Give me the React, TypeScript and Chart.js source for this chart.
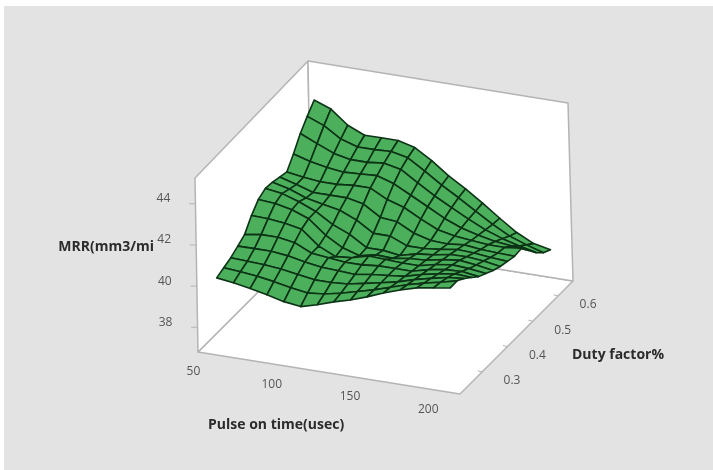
import React, { useEffect, useRef } from "react";
import Chart from "chart.js/auto";

const pulseValues = [50, 60.7, 71.4, 82.1, 92.9, 103.6, 114.3, 125, 135.7, 146.4, 157.1, 167.9, 178.6, 189.3, 200];
const dutyValues = [0.25, 0.278, 0.306, 0.334, 0.361, 0.389, 0.417, 0.445, 0.473, 0.501, 0.529, 0.556, 0.584, 0.612, 0.64];

const mrrPulse0 = [40.02, 40.16, 40.3, 40.51, 40.73, 41.3, 41.73, 41.91, 41.86, 41.76, 41.66, 42.18, 42.81, 43.28, 43.71];
const mrrPulse1 = [39.91, 40.1, 40.26, 40.52, 40.86, 41.28, 41.66, 41.79, 41.66, 41.53, 41.53, 41.95, 42.46, 42.97, 43.41];
const mrrPulse2 = [39.77, 40.01, 40.22, 40.52, 40.86, 41.19, 41.49, 41.53, 41.36, 41.28, 41.45, 41.79, 42.12, 42.46, 42.77];
const mrrPulse3 = [39.59, 39.88, 40.14, 40.43, 40.73, 41.03, 41.19, 41.19, 41.19, 41.28, 41.45, 41.7, 41.95, 42.21, 42.42];
const mrrPulse4 = [39.39, 39.72, 40.01, 40.26, 40.35, 40.35, 40.52, 40.69, 41.03, 41.28, 41.53, 41.74, 41.95, 42.21, 42.43];
const mrrPulse5 = [39.28, 39.59, 39.88, 40.14, 40.26, 39.97, 40.05, 40.35, 40.69, 41.11, 41.53, 41.79, 42.04, 42.25, 42.43];
const mrrPulse6 = [39.5, 39.67, 39.88, 40.1, 40.18, 40.05, 39.8, 39.84, 40.18, 40.6, 41.11, 41.53, 41.87, 42.08, 42.22];
const mrrPulse7 = [39.77, 39.84, 39.94, 40.05, 40.18, 40.26, 39.97, 39.84, 40.18, 40.52, 40.86, 41.11, 41.36, 41.57, 41.73];
const mrrPulse8 = [39.99, 40.05, 40.1, 40.18, 40.26, 40.22, 39.93, 39.72, 39.84, 40.1, 40.43, 40.69, 40.86, 41.03, 41.13];
const mrrPulse9 = [40.27, 40.26, 40.26, 40.26, 40.26, 40.18, 40.05, 39.93, 39.84, 39.88, 40.05, 40.26, 40.43, 40.56, 40.64];
const mrrPulse10 = [40.59, 40.52, 40.43, 40.35, 40.26, 40.18, 40.1, 40.01, 39.93, 39.84, 39.88, 39.93, 40.01, 40.05, 40.09];
const mrrPulse11 = [40.87, 40.77, 40.67, 40.57, 40.47, 40.37, 40.26, 40.16, 40.05, 39.93, 39.8, 39.72, 39.63, 39.55, 39.5];
const mrrPulse12 = [41.1, 40.98, 40.86, 40.73, 40.6, 40.48, 40.35, 40.18, 40.01, 39.84, 39.72, 39.55, 39.34, 39.12, 38.95];
const mrrPulse13 = [41.23, 41.15, 41.03, 40.86, 40.64, 40.43, 40.26, 40.1, 39.93, 39.8, 39.72, 39.46, 39.12, 38.83, 38.55];
const mrrPulse14 = [41.35, 41.35, 41.11, 40.81, 40.52, 40.32, 40.12, 39.97, 39.87, 39.77, 39.81, 39.37, 38.93, 38.58, 38.39];
const mrrGrid = [mrrPulse0, mrrPulse1, mrrPulse2, mrrPulse3, mrrPulse4, mrrPulse5, mrrPulse6, mrrPulse7, mrrPulse8, mrrPulse9, mrrPulse10, mrrPulse11, mrrPulse12, mrrPulse13, mrrPulse14];

const pulseTicks = [50, 100, 150, 200];
const dutyTicks = [0.3, 0.4, 0.5, 0.6];
const mrrTicks = [38, 40, 42, 44];

const pulseRange = [43.3, 210.7];
const dutyRange = [0.213, 0.659];
const mrrRange = [36.8, 45.25];

const project = (p: number, d: number, m: number) => {
  const u = (p - pulseRange[0]) / (pulseRange[1] - pulseRange[0]);
  const v = (d - dutyRange[0]) / (dutyRange[1] - dutyRange[0]);
  const w = (m - mrrRange[0]) / (mrrRange[1] - mrrRange[0]);
  return {
    x: 198 + 262 * u + 113 * v - (3 + 2 * u) * w,
    y: 352 + 42 * u - 113 * v - (174 + 4 * v) * w,
  };
};

const lineSet = (data: { x: number; y: number }[], color: string, width: number, fillColor?: string) => ({
  data,
  showLine: true,
  borderColor: color,
  borderWidth: width,
  borderJoinStyle: "round" as const,
  borderCapStyle: "round" as const,
  backgroundColor: fillColor ?? "transparent",
  fill: fillColor ? ("shape" as const) : false,
  pointRadius: 0,
  pointHoverRadius: 0,
  tension: 0,
  clip: false,
});

const buildDatasets = () => {
  const [pl, ph] = pulseRange;
  const [dl, dh] = dutyRange;
  const [ml, mh] = mrrRange;
  const paint: any[] = [];
  const edge = "#b4b4b4";
  const white = "#ffffff";
  const poly = (pts: number[][]) => {
    const a = pts.map(([p, d, m]) => project(p, d, m));
    return [...a, a[0]];
  };
  paint.push(lineSet(poly([[pl, dl, ml], [ph, dl, ml], [ph, dh, ml], [pl, dh, ml]]), edge, 1.5, white));
  paint.push(lineSet(poly([[pl, dl, ml], [pl, dh, ml], [pl, dh, mh], [pl, dl, mh]]), edge, 1.5, white));
  paint.push(lineSet(poly([[pl, dh, ml], [ph, dh, ml], [ph, dh, mh], [pl, dh, mh]]), edge, 1.5, white));
  mrrTicks.forEach((m) => {
    const a = project(pl, dl, m);
    paint.push(lineSet([a, { x: a.x - 6, y: a.y }], edge, 1));
  });
  dutyTicks.forEach((d) => {
    const a = project(ph, d, ml);
    paint.push(lineSet([a, { x: a.x - 4, y: a.y - 1 }], edge, 1));
  });
  for (let i = 0; i < pulseValues.length - 1; i++) {
    for (let j = dutyValues.length - 2; j >= 0; j--) {
      const q = [
        project(pulseValues[i], dutyValues[j], mrrGrid[i][j]),
        project(pulseValues[i + 1], dutyValues[j], mrrGrid[i + 1][j]),
        project(pulseValues[i + 1], dutyValues[j + 1], mrrGrid[i + 1][j + 1]),
        project(pulseValues[i], dutyValues[j + 1], mrrGrid[i][j + 1]),
      ];
      paint.push(lineSet([...q, q[0]], "#0c3316", 1.6, "#4caf5b"));
    }
  }
  return paint.reverse();
};

const framePlugin = {
  id: "frame",
  beforeDraw(chart: any) {
    const c = chart.ctx;
    c.save();
    c.fillStyle = "#ffffff";
    c.fillRect(0, 0, chart.width, chart.height);
    c.fillStyle = "#e3e3e3";
    c.fillRect(4, 6, chart.width - 4, chart.height - 6);
    c.restore();
  },
  afterDraw(chart: any) {
    const c = chart.ctx;
    c.save();
    c.textAlign = "center";
    c.textBaseline = "middle";
    c.fillStyle = "#555555";
    c.font = '12px "Open Sans"';
    pulseTicks.forEach((p) => {
      const a = project(p, dutyRange[0], mrrRange[0]);
      c.fillText(String(p), a.x - 15, a.y + 18);
    });
    dutyTicks.forEach((d) => {
      const a = project(pulseRange[1], d, mrrRange[0]);
      c.fillText(d.toFixed(1), a.x + 30, a.y + 9);
    });
    mrrTicks.forEach((m) => {
      const a = project(pulseRange[0], dutyRange[0], m);
      c.fillText(String(m), a.x - 32, a.y - 5);
    });
    c.fillStyle = "#2b2b2b";
    c.font = 'bold 14px "Open Sans"';
    c.textAlign = "right";
    c.fillText("MRR(mm3/mi", 154, 247);
    c.textAlign = "left";
    c.fillText("Duty factor%", 572, 355);
    c.fillText("Pulse on time(usec)", 208, 425);
    c.restore();
  },
};

export default function App() {
  const ref = useRef<HTMLCanvasElement>(null);
  useEffect(() => {
    const chart = new Chart(ref.current!, {
      type: "scatter",
      data: { datasets: buildDatasets() },
      options: {
        animation: false,
        responsive: false,
        layout: { padding: 0 },
        events: [],
        scales: {
          x: { type: "linear", min: 0, max: 713, display: false },
          y: { type: "linear", min: 0, max: 470, reverse: true, display: false },
        },
        plugins: { legend: { display: false }, tooltip: { enabled: false } },
      },
      plugins: [framePlugin],
    });
    return () => chart.destroy();
  }, []);
  return (
    <div style={{ position: "absolute", left: 0, top: 0 }}>
      <canvas ref={ref} width={713} height={470} style={{ display: "block" }} />
    </div>
  );
}
